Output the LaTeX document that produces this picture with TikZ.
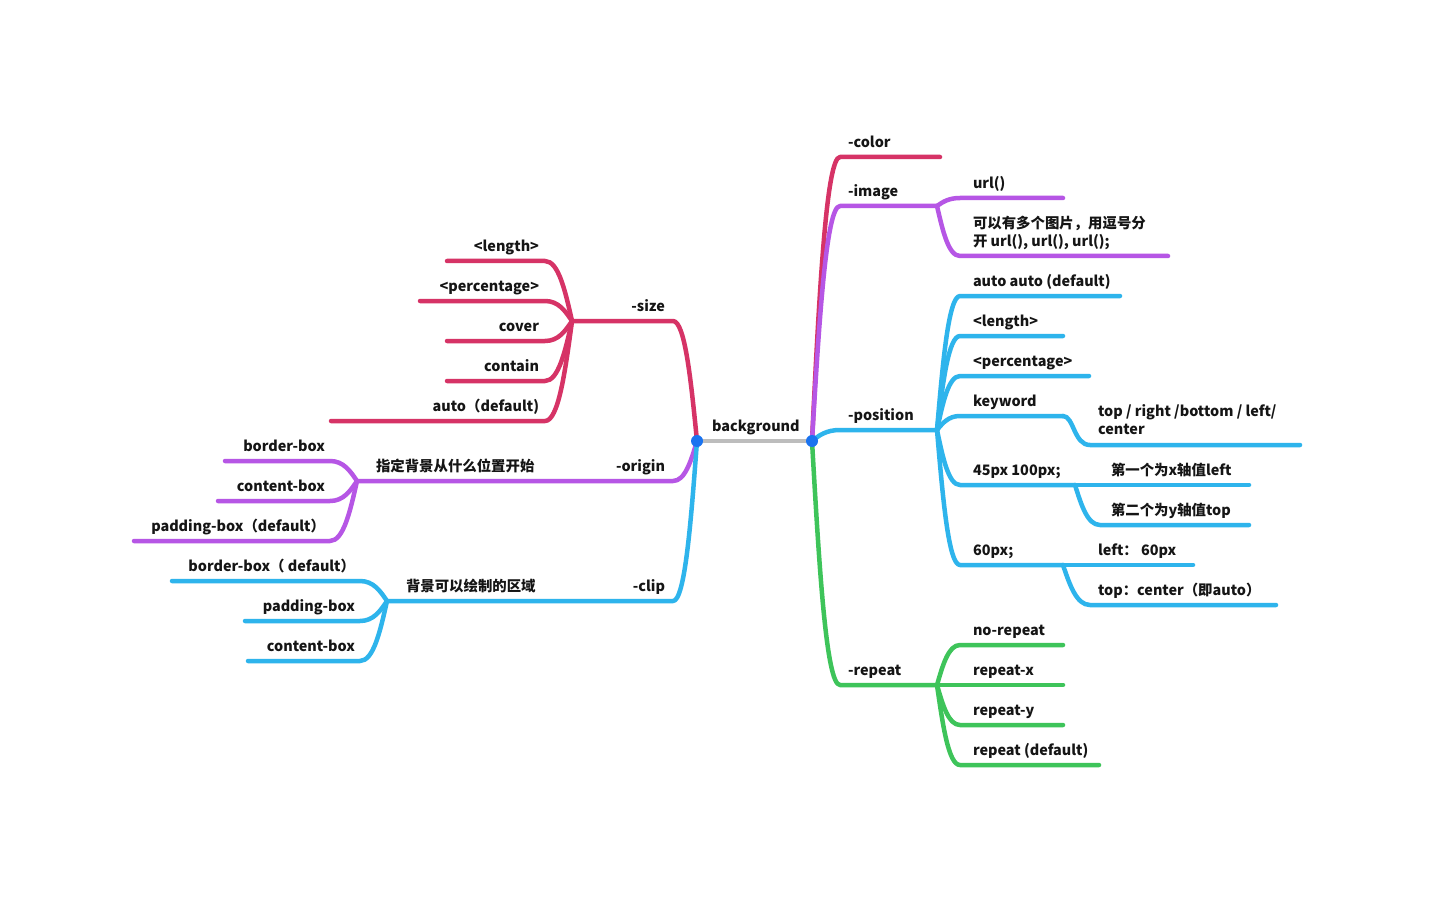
\documentclass[tikz,border=0pt]{standalone}
\usepackage{fontspec}
\setmainfont{Noto Sans CJK SC}
\usetikzlibrary{calc}
\definecolor{crim}{HTML}{D63366}
\definecolor{purp}{HTML}{B656E5}
\definecolor{skyb}{HTML}{2EB4EC}
\definecolor{grn}{HTML}{3EC45A}
\definecolor{grayl}{HTML}{BDBDBD}
\definecolor{dotb}{HTML}{1A73F0}
\definecolor{txt}{HTML}{151515}
\begin{document}
\begin{tikzpicture}[x=1pt,y=-1pt,
 edge/.style={line width=4.5pt,line cap=round,line join=round},
 lbl/.style={inner sep=0pt,outer sep=0pt,font=\fontsize{14.4}{18}\selectfont\bfseries,text=txt,yshift=-1.5pt},
 lw/.style={lbl,anchor=base west},
 le/.style={lbl,anchor=base east},
 fan/.style={to path={let \p1=(\tikztostart),\p2=(\tikztotarget) in .. controls ({0.75*\x1+0.25*\x2},{0.5*\y1+0.5*\y2}) and ({0.5*\x1+0.5*\x2},{\y2}) .. (\tikztotarget)}},
 scurve/.style={to path={let \p1=(\tikztostart),\p2=(\tikztotarget) in .. controls ({0.6*\x1+0.4*\x2},{\y1}) and ({0.6*\x1+0.4*\x2},{\y2}) .. (\tikztotarget)}},
 dotn/.style={circle,fill=dotb,inner sep=0pt,minimum size=12pt}
]
\fill[white] (0,0) rectangle (1434,917);

% root
\coordinate (L) at (697,441);
\coordinate (R) at (812,441);
\draw[edge,grayl] (L) -- (R);
\node[lw] (bg) at (712,430) {background};

% ---------- right side ----------
% -color
\coordinate (colS) at (840,157); \coordinate (colE) at (940,157);
\draw[edge,crim] (R) to[fan] (colS) -- (colE);
\node[lw] (tcol) at (848,146) {-color};

% -image
\coordinate (imgS) at (840,206); \coordinate (imgB) at (937,206);
\draw[edge,purp] (R) to[fan] (imgS) -- (imgB);
\node[lw] (timg) at (848,195) {-image};
\coordinate (urlS) at (960,198); \coordinate (urlE) at (1063,198);
\draw[edge,purp] (imgB) to[fan] (urlS) -- (urlE);
\node[lw] (turl) at (973,187) {url()};
\coordinate (mulS) at (960,256); \coordinate (mulE) at (1168,256);
\draw[edge,purp] (imgB) to[fan] (mulS) -- (mulE);
\node[lw,align=left] (tmul) at (973,245) {可以有多个图片，用逗号分\\开 url(), url(), url();};

% -position
\coordinate (posS) at (840,430); \coordinate (posB) at (937,430);
\draw[edge,skyb] (R) to[fan] (posS) -- (posB);
\node[lw] (tpos) at (848,419) {-position};

\coordinate (aaS) at (960,296); \coordinate (aaE) at (1120,296);
\draw[edge,skyb] (posB) to[fan] (aaS) -- (aaE);
\node[lw] (taa) at (973,285) {auto auto (default)};

\coordinate (plS) at (960,336); \coordinate (plE) at (1063,336);
\draw[edge,skyb] (posB) to[fan] (plS) -- (plE);
\node[lw] (tpl) at (973,325) {<length>};

\coordinate (ppS) at (960,376); \coordinate (ppE) at (1089,376);
\draw[edge,skyb] (posB) to[fan] (ppS) -- (ppE);
\node[lw] (tpp) at (973,365) {<percentage>};

\coordinate (kwS) at (960,416); \coordinate (kwB) at (1063,416);
\draw[edge,skyb] (posB) to[fan] (kwS) -- (kwB);
\node[lw] (tkw) at (973,405) {keyword};
\coordinate (trS) at (1090,445); \coordinate (trE) at (1300,445);
\draw[edge,skyb] (kwB) to[scurve] (trS) -- (trE);
\node[lw,align=left] (ttr) at (1098,433) {top / right /bottom / left/\\center};

\coordinate (f45S) at (960,485); \coordinate (f45B) at (1075,485);
\draw[edge,skyb] (posB) to[fan] (f45S) -- (f45B);
\node[lw] (tf45) at (973,474) {45px 100px;};
\coordinate (xE) at (1249,485);
\draw[edge,skyb] (f45B) -- (xE);
\node[lw] (tx) at (1111,474) {第一个为x轴值left};
\coordinate (yS) at (1100,525); \coordinate (yE) at (1249,525);
\draw[edge,skyb] (f45B) to[fan] (yS) -- (yE);
\node[lw] (ty) at (1111,514) {第二个为y轴值top};

\coordinate (s60S) at (960,565); \coordinate (s60B) at (1063,565);
\draw[edge,skyb] (posB) to[fan] (s60S) -- (s60B);
\node[lw] (ts60) at (973,554) {60px;};
\coordinate (lfE) at (1193,565);
\draw[edge,skyb] (s60B) -- (lfE);
\node[lw] (tlf) at (1098,554) {left： 60px};
\coordinate (tcS) at (1090,605); \coordinate (tcE) at (1276,605);
\draw[edge,skyb] (s60B) to[fan] (tcS) -- (tcE);
\node[lw] (ttc) at (1098,594) {top：center（即auto）};

% -repeat
\coordinate (repS) at (840,685); \coordinate (repB) at (937,685);
\draw[edge,grn] (R) to[fan] (repS) -- (repB);
\node[lw] (trep) at (848,674) {-repeat};
\coordinate (nrS) at (960,645); \coordinate (nrE) at (1063,645);
\draw[edge,grn] (repB) to[fan] (nrS) -- (nrE);
\node[lw] (tnr) at (973,634) {no-repeat};
\coordinate (rxS) at (960,685); \coordinate (rxE) at (1063,685);
\draw[edge,grn] (repB) -- (rxS) -- (rxE);
\node[lw] (trx) at (973,674) {repeat-x};
\coordinate (ryS) at (960,725); \coordinate (ryE) at (1063,725);
\draw[edge,grn] (repB) to[fan] (ryS) -- (ryE);
\node[lw] (try) at (973,714) {repeat-y};
\coordinate (rdS) at (960,765); \coordinate (rdE) at (1099,765);
\draw[edge,grn] (repB) to[fan] (rdS) -- (rdE);
\node[lw] (trd) at (973,754) {repeat (default)};

% ---------- left side ----------
% -size
\coordinate (szS) at (673,321); \coordinate (szB) at (572,321);
\draw[edge,crim] (L) to[fan] (szS) -- (szB);
\node[le] (tsz) at (665,310) {-size};
\coordinate (slS) at (545,261); \coordinate (slE) at (447,261);
\draw[edge,crim] (szB) to[fan] (slS) -- (slE);
\node[le] (tsl) at (539,250) {<length>};
\coordinate (spS) at (545,301); \coordinate (spE) at (420,301);
\draw[edge,crim] (szB) to[fan] (spS) -- (spE);
\node[le] (tsp) at (539,290) {<percentage>};
\coordinate (scS) at (545,341); \coordinate (scE) at (447,341);
\draw[edge,crim] (szB) to[fan] (scS) -- (scE);
\node[le] (tsc) at (539,330) {cover};
\coordinate (snS) at (545,381); \coordinate (snE) at (447,381);
\draw[edge,crim] (szB) to[fan] (snS) -- (snE);
\node[le] (tsn) at (539,370) {contain};
\coordinate (saS) at (545,421); \coordinate (saE) at (331,421);
\draw[edge,crim] (szB) to[fan] (saS) -- (saE);
\node[le] (tsa) at (539,410) {auto（default)};

% -origin
\coordinate (orS) at (673,481); \coordinate (orB) at (357,481);
\draw[edge,purp] (L) to[fan] (orS) -- (orB);
\node[le] (tor) at (665,470) {-origin};
\node[lw] (tord) at (376,470) {指定背景从什么位置开始};
\coordinate (obS) at (330,461); \coordinate (obE) at (225,461);
\draw[edge,purp] (orB) to[fan] (obS) -- (obE);
\node[le] (tob) at (325,450) {border-box};
\coordinate (ocS) at (330,501); \coordinate (ocE) at (218,501);
\draw[edge,purp] (orB) to[fan] (ocS) -- (ocE);
\node[le] (toc) at (325,490) {content-box};
\coordinate (opS) at (330,541); \coordinate (opE) at (134,541);
\draw[edge,purp] (orB) to[fan] (opS) -- (opE);
\node[le] (top) at (325,530) {padding-box（default）};

% -clip
\coordinate (clS) at (673,601); \coordinate (clB) at (387,601);
\draw[edge,skyb] (L) to[fan] (clS) -- (clB);
\node[le] (tcl) at (665,590) {-clip};
\node[lw] (tcld) at (406,590) {背景可以绘制的区域};
\coordinate (cbS) at (360,581); \coordinate (cbE) at (172,581);
\draw[edge,skyb] (clB) to[fan] (cbS) -- (cbE);
\node[le] (tcb) at (355,570) {border-box（ default）};
\coordinate (cpS) at (360,621); \coordinate (cpE) at (245,621);
\draw[edge,skyb] (clB) to[fan] (cpS) -- (cpE);
\node[le] (tcp) at (355,610) {padding-box};
\coordinate (ccS) at (360,661); \coordinate (ccE) at (248,661);
\draw[edge,skyb] (clB) to[fan] (ccS) -- (ccE);
\node[le] (tcc) at (355,650) {content-box};

% root dots
\node[dotn] (dL) at (L) {};
\node[dotn] (dR) at (R) {};
\end{tikzpicture}
\end{document}
